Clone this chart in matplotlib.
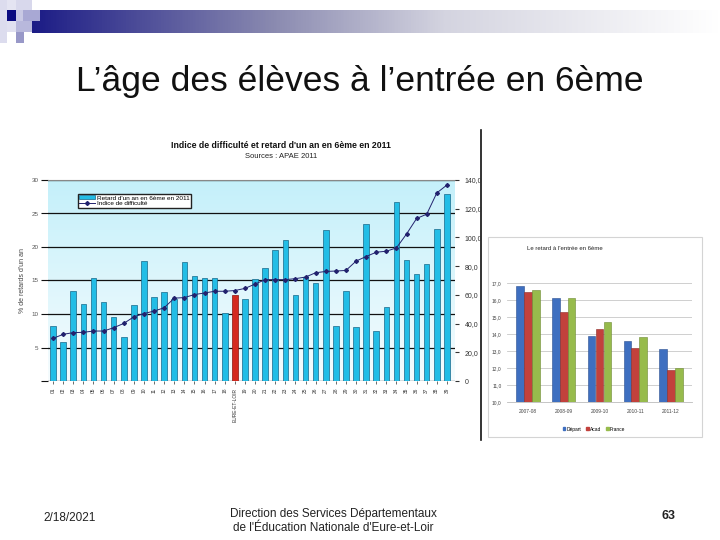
import numpy as np
import matplotlib
matplotlib.use("Agg")
import matplotlib.pyplot as plt
from matplotlib.patches import Rectangle
from matplotlib.colors import LinearSegmentedColormap
from matplotlib.lines import Line2D

plt.rcParams['font.family'] = ['Liberation Sans', 'DejaVu Sans']

# ---------------- data ----------------
etab_labels = ["01", "02", "03", "04", "05", "06", "07", "08", "09", "10",
               "11", "12", "13", "14", "15", "16", "17", "18", "EURE-ET-LOIR", "19",
               "20", "21", "22", "23", "24", "25", "26", "27", "28", "29",
               "30", "31", "32", "33", "34", "35", "36", "37", "38", "39"]
retard = [8.2, 5.8, 13.5, 11.5, 15.4, 11.8, 9.6, 6.5, 11.3, 17.9,
          12.5, 13.3, 12.3, 17.8, 15.6, 15.4, 15.3, 10.2, 12.9, 12.3,
          15.2, 16.8, 19.5, 21.1, 12.9, 15.5, 14.7, 22.6, 8.2, 13.5,
          8.1, 23.5, 7.4, 11.1, 26.7, 18.0, 15.9, 17.5, 22.7, 27.9]
indice = [29.7, 32.5, 33.7, 33.9, 34.8, 34.8, 37.1, 40.1, 44.7, 47.0,
          48.7, 51.0, 57.7, 58.1, 60.2, 61.3, 62.5, 62.5, 63.0, 64.5,
          67.5, 70.6, 70.6, 70.6, 71.3, 72.4, 75.4, 76.3, 76.6, 77.0,
          83.5, 86.7, 89.7, 90.4, 92.7, 102.4, 113.2, 116.2, 131.0, 136.5]
highlight = "EURE-ET-LOIR"

annees = ["2007-08", "2008-09", "2009-10", "2010-11", "2011-12"]
depart = [16.8, 16.1, 13.9, 13.6, 13.1]
acad = [16.5, 15.3, 14.3, 13.2, 11.9]
france = [16.6, 16.1, 14.7, 13.8, 12.0]
small_ticks = [10, 11, 12, 13, 14, 15, 16, 17]

W, H = 720, 540
fig = plt.figure(figsize=(7.2, 5.4), dpi=100)
fig.patch.set_facecolor("white")


def fx(x):
    return x / W


def fy(y):
    return 1 - y / H


def box(x0, y0, x1, y1):
    return [fx(x0), fy(y1), fx(x1) - fx(x0), fy(y0) - fy(y1)]


# ---------------- slide decoration ----------------
deco = fig.add_axes([0, 0, 1, 1])
deco.set_xlim(0, W)
deco.set_ylim(H, 0)
deco.axis("off")
grad_cmap = LinearSegmentedColormap.from_list(
    "hdr", [(0, "#1c1c86"), (0.35, "#8a8ab0"), (0.6, "#d4d4e0"), (1.0, "#ffffff")])
g = np.linspace(0, 1, 512).reshape(1, -1)
deco.imshow(g, extent=[32, 720, 33, 10], cmap=grad_cmap, aspect="auto", zorder=1)
for (x0, y0, w, h, c) in [(0, 0, 7, 43, "#dcdcee"), (7, 0, 9, 10, "#e4e4f2"),
                          (16, 0, 16, 10, "#d8d8ec"), (7, 10, 9, 11, "#0a0a80"),
                          (16, 10, 16, 11, "#c8c8e4"), (23, 10, 17, 11, "#a8a8d4"),
                          (7, 21, 9, 11, "#e0e0f0"), (16, 21, 16, 11, "#b8b8dc"),
                          (16, 32, 8, 11, "#9898c8")]:
    deco.add_patch(Rectangle((x0, y0), w, h, color=c, zorder=2, lw=0))

fig.text(fx(360), fy(82), "L’âge des élèves à l’entrée en 6ème", ha="center", va="center",
         fontsize=25.5, color="#111111")
fig.text(fx(70), fy(518), "2/18/2021", ha="center", va="center", fontsize=8.5, color="#222222")
fig.text(fx(333), fy(521), "Direction des Services Départementaux\nde l'Éducation Nationale d'Eure-et-Loir",
         ha="center", va="center", fontsize=8.5, color="#222222", linespacing=1.25)
fig.text(fx(669), fy(516), "63", ha="center", va="center", fontsize=9, fontweight="bold", color="#222222")

# vertical separator line of the embedded chart image
deco.plot([481, 481], [130, 440], color="#111111", lw=1.2, zorder=3)

# ---------------- main chart ----------------
ax = fig.add_axes(box(48, 180, 455, 381))
x = np.arange(len(retard))
ax.set_xlim(-0.5, len(retard) - 0.2)
ax.set_ylim(0, 30)
bg_cmap = LinearSegmentedColormap.from_list("bg", ["#f6fcfe", "#c4f0fa"])
ax.imshow(np.linspace(0, 1, 256).reshape(-1, 1), extent=[-0.5, len(retard) - 0.2, 0, 30],
          origin="lower", cmap=bg_cmap, aspect="auto", zorder=0)
colors = ["#d42a20" if lab == highlight else "#22bde6" for lab in etab_labels]
edges = ["#8a1510" if lab == highlight else "#17688a" for lab in etab_labels]
ax.bar(x, retard, width=0.55, color=colors, edgecolor=edges, linewidth=0.5, zorder=3)
ax.set_yticks([0, 5, 10, 15, 20, 25, 30])
ax.set_yticklabels(["", "5", "10", "15", "20", "25", "30"])
ax.yaxis.grid(True, color="#111111", lw=0.9, zorder=1)
ax.set_axisbelow(True)
ax.tick_params(axis="y", labelsize=4.5, labelcolor="#555555", length=5, color="#111111", pad=2)
ax.set_xticks(x)
ax.set_xticklabels(etab_labels, rotation=90, fontsize=3.5, color="#333333")
ax.tick_params(axis="x", length=2, width=0.5, color="#333333", pad=3)
ax.set_ylabel("% de retards d'un an", fontsize=5, color="#444444", labelpad=4)
for s in ["left", "right", "bottom"]:
    ax.spines[s].set_visible(False)
ax.spines["top"].set_color("#888888")
ax.spines["top"].set_linewidth(0.8)

ax2 = ax.twinx()
ax2.set_ylim(0, 140)
ax2.plot(x, indice, color="#22226e", lw=0.7, marker="D", markersize=2.0, zorder=5)
ax2.set_yticks(np.arange(0, 141, 20))
ax2.set_yticklabels(["0"] + [f"{v:.1f}".replace(".", ",") for v in np.arange(20, 141, 20)])
ax2.tick_params(axis="y", labelsize=5, labelcolor="#333333", length=3, color="#333333", pad=4)
for s in ["left", "right", "bottom", "top"]:
    ax2.spines[s].set_visible(False)

fig.text(fx(281), fy(146), "Indice de difficulté et retard d'un an en 6ème en 2011", ha="center",
         va="center", fontsize=6.3, fontweight="bold", color="#111111")
fig.text(fx(281), fy(156), "Sources : APAE 2011", ha="center", va="center", fontsize=5.5, color="#222222")

leg_handles = [Rectangle((0, 0), 1, 1, facecolor="#22bde6", edgecolor="#17688a", lw=0.5),
               Line2D([0], [0], color="#22226e", lw=0.7, marker="D", markersize=2.0)]
ax.legend(leg_handles, ["Retard d'un an en 6ème en 2011", "Indice de difficulté"],
          loc="upper left", bbox_to_anchor=(fx(78 - 48) / fx(407), 1 - 14 / 201),
          fontsize=4.6, frameon=True, fancybox=False, edgecolor="#222222", framealpha=1,
          borderpad=0.2, labelspacing=0.1, handlelength=2.4, handleheight=0.6,
          borderaxespad=0, handletextpad=0.3)

# ---------------- small chart ----------------
frame = Rectangle((488, 237), 214, 200, fill=False, edgecolor="#d4d4d4", lw=0.8, zorder=2)
deco.add_patch(frame)
fig.text(fx(565), fy(249), "Le retard à l'entrée en 6ème", ha="center", va="center",
         fontsize=4.3, color="#222222")

sx = fig.add_axes(box(507, 283, 692, 402))
sx.set_xlim(-0.59, 4.59)
sx.set_ylim(small_ticks[0], small_ticks[-1])
xi = np.arange(len(annees))
bw = 0.22
for off, vals, col, edge in [(-bw, depart, "#3e6fc0", "#2a4f8f"),
                             (0, acad, "#c2413c", "#8d2a26"),
                             (bw, france, "#97bb4c", "#6d8a33")]:
    sx.bar(xi + off, np.array(vals) - small_ticks[0], bottom=small_ticks[0], width=bw * 0.95,
           color=col, edgecolor=edge, lw=0.4, zorder=3)
sx.set_yticks(small_ticks)
sx.set_yticklabels([f"{v:.1f}".replace(".", ",") for v in small_ticks])
sx.yaxis.grid(True, color="#c8c8c8", lw=0.6)
sx.set_axisbelow(True)
sx.tick_params(axis="y", labelsize=3.5, labelcolor="#444444", length=0, pad=4)
sx.set_xticks(xi)
sx.set_xticklabels(annees, fontsize=3.5, color="#444444")
sx.tick_params(axis="x", length=0, pad=5)
for s in ["left", "right", "top"]:
    sx.spines[s].set_visible(False)
sx.spines["bottom"].set_color("#bbbbbb")
sx.spines["bottom"].set_linewidth(0.6)
sh = [Rectangle((0, 0), 1, 1, color=c) for c in ["#3e6fc0", "#c2413c", "#97bb4c"]]
sx.legend(sh, ["Départ", "Acad", "France"], loc="upper center", bbox_to_anchor=(0.47, -0.17),
          ncol=3, fontsize=3.5, frameon=False, handlelength=0.6, handleheight=0.6,
          columnspacing=1.0, handletextpad=0.2)

fig.savefig("out.png", dpi=100)
